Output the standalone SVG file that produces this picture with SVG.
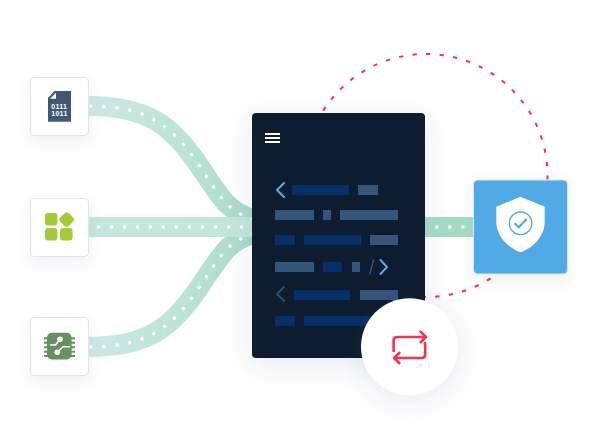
<svg xmlns="http://www.w3.org/2000/svg" width="599" height="448" viewBox="0 0 599 448">
<style>
.card{fill:#fff;stroke:#e2e4ec;stroke-width:1.2;filter:url(#soft)}
.rib{fill:none;stroke-width:20}
.dots{fill:none;stroke:#fff;stroke-width:3.2;stroke-dasharray:3.2 9.8}
.navy{fill:#062f68}
.slate{fill:#34557c}
.chev{fill:none;stroke:#5aaae8;stroke-width:2;stroke-linecap:round;stroke-linejoin:round}
.pin{stroke:#66905f;stroke-width:2}
.leaf{fill:#a6c93a}
.bin{font-family:"Liberation Sans",Arial,sans-serif;font-size:7px;font-weight:700;fill:#fff;letter-spacing:.3px}
.red{fill:none;stroke:#f5324f;stroke-width:2.6;stroke-linecap:round;stroke-linejoin:round}
</style>
<defs>
<filter id="soft" x="-40%" y="-40%" width="180%" height="180%"><feDropShadow dx="0" dy="5" stdDeviation="7" flood-color="#5a6a90" flood-opacity="0.10"/></filter>
<filter id="big" x="-30%" y="-30%" width="160%" height="160%"><feDropShadow dx="0" dy="6" stdDeviation="12" flood-color="#4a5a80" flood-opacity="0.12"/></filter>
<linearGradient id="g1" gradientUnits="userSpaceOnUse" x1="88" y1="0" x2="252" y2="0"><stop offset="0" stop-color="#cde9e2"/><stop offset="0.6" stop-color="#bbe3d6"/><stop offset="1" stop-color="#a6dbc6"/></linearGradient>
<linearGradient id="g2" gradientUnits="userSpaceOnUse" x1="88" y1="0" x2="252" y2="0"><stop offset="0" stop-color="#c6e7dd"/><stop offset="1" stop-color="#c3e6da"/></linearGradient>
</defs>
<g id="connectors">
<path class="rib" stroke="url(#g1)" d="M88 106C148 106 172 126 198 164S226 209 252 219"/>
<path class="rib" stroke="url(#g1)" d="M88 347C148 347 172 327 198 289S226 244 252 234"/>
<path class="rib" stroke="url(#g2)" d="M88 227H252"/>
<path class="rib" stroke="#a5dbc5" d="M425 227H474"/>
<path class="dots" d="M89.2 106C148 106 172 126 198 164S226 209 252 219"/>
<path class="dots" d="M89.2 347C148 347 172 327 198 289S226 244 252 234"/>
<path class="dots" d="M96.8 227H252"/>
<path class="dots" d="M435.2 227H472"/>
<path id="arc" d="M426 54A121.5 121.5 0 1 1 426 297A121.5 121.5 0 1 1 426 54" fill="none" stroke="#f5324f" stroke-width="2" stroke-dasharray="4.3 9.33"/>
</g>
<g id="node-file">
<rect class="card" x="30.5" y="77.5" width="58" height="58" rx="4"/>
<path d="M54.5 91H71V121.7H48V98Z" fill="#3f5873"/>
<path d="M56 92.7V98.7H50Z" fill="#fff"/>
<text class="bin" x="51.2" y="108.7">0111</text>
<text class="bin" x="51.2" y="116">1011</text>
</g>
<g id="node-apps">
<rect class="card" x="30.5" y="198.5" width="58" height="58" rx="4"/>
<rect class="leaf" x="45" y="213" width="12.4" height="12.4" rx="3"/>
<rect class="leaf" x="45" y="228" width="12.4" height="12.4" rx="3"/>
<rect class="leaf" x="60" y="228" width="12.6" height="12.4" rx="3"/>
<rect class="leaf" x="60.7" y="213.7" width="12" height="12" rx="3" transform="rotate(45 66.7 219.7)"/>
</g>
<g id="node-chip">
<rect class="card" x="30.5" y="317.5" width="58" height="58" rx="4"/>
<path class="pin" d="M44 338.3H75M44 342.8H75M44 347.2H75M44 351.7H75M44 356.1H75"/>
<rect x="47" y="332.7" width="24.6" height="26.8" rx="5" fill="#66905f"/>
<circle cx="60" cy="339.3" r="2.8" fill="#fff"/>
<circle cx="57.3" cy="352.3" r="2.8" fill="#fff"/>
<path d="M60 339.3L55.5 345H50M57.3 352.3L63 346.7H70" fill="none" stroke="#fff" stroke-width="1.5"/>
</g>
<g id="node-panel">
<rect x="252" y="113" width="173" height="245" rx="4" fill="#111f2e" filter="url(#big)"/>
<path d="M265 134H280M265 138H280M265 142H280" stroke="#fff" stroke-width="2"/>
<path class="chev" d="M284 183L277 190L284 197"/>
<rect class="navy" x="292" y="185" width="57" height="10"/>
<rect class="slate" x="358" y="185" width="20" height="10"/>
<rect class="slate" x="275" y="210" width="39" height="10"/>
<rect class="slate" x="323" y="210" width="8" height="10"/>
<rect class="slate" x="340" y="210" width="58" height="10"/>
<rect class="navy" x="275" y="235" width="20" height="10"/>
<rect class="navy" x="304" y="235" width="57" height="10"/>
<rect class="slate" x="370" y="235" width="28" height="10"/>
<rect class="slate" x="275" y="262" width="39" height="10"/>
<rect class="navy" x="323" y="262" width="19" height="10"/>
<rect class="slate" x="352" y="262" width="8" height="10"/>
<path d="M369.7 274.5L373.7 259.5" stroke="#2f4f73" stroke-width="1.6" fill="none"/>
<path class="chev" d="M380.5 260L387 267L380.5 274"/>
<path class="chev" style="stroke:#2f4f73" d="M284 287L277 294L284 301"/>
<rect class="navy" x="294" y="290" width="56" height="10"/>
<rect class="slate" x="360" y="290" width="38" height="10"/>
<rect class="navy" x="275" y="316" width="20" height="10"/>
<rect class="navy" x="304" y="316" width="70" height="10"/>
</g>
<g id="node-shield">
<rect x="473.5" y="180" width="94" height="94" rx="4" fill="#51a9e5" stroke="#dfe9f4" stroke-width="1" filter="url(#soft)"/>
<path d="M520.5 196.7L544.7 206.8V222C544.7 236 533 248 520.5 252.3C508 248 496.3 236 496.3 222V206.8Z" fill="#fff"/>
<circle cx="520.6" cy="223.3" r="11.3" fill="none" stroke="#51a9e5" stroke-width="1.3"/>
<path d="M514.5 223.3L518.7 227.3L526.7 219" fill="none" stroke="#51a9e5" stroke-width="2.2"/>
</g>
<g id="node-repeat">
<circle cx="409.5" cy="346.7" r="48.5" fill="#fff" filter="url(#big)"/>
<path class="red" d="M425 337H397Q393.6 337 393.6 340.4V351M420.6 331.6L426 337L420.6 342.2"/>
<path class="red" d="M425.2 343V354.6Q425.2 358 421.8 358H394M399.4 352.8L394 358L399.4 363.2"/>
</g>
</svg>
